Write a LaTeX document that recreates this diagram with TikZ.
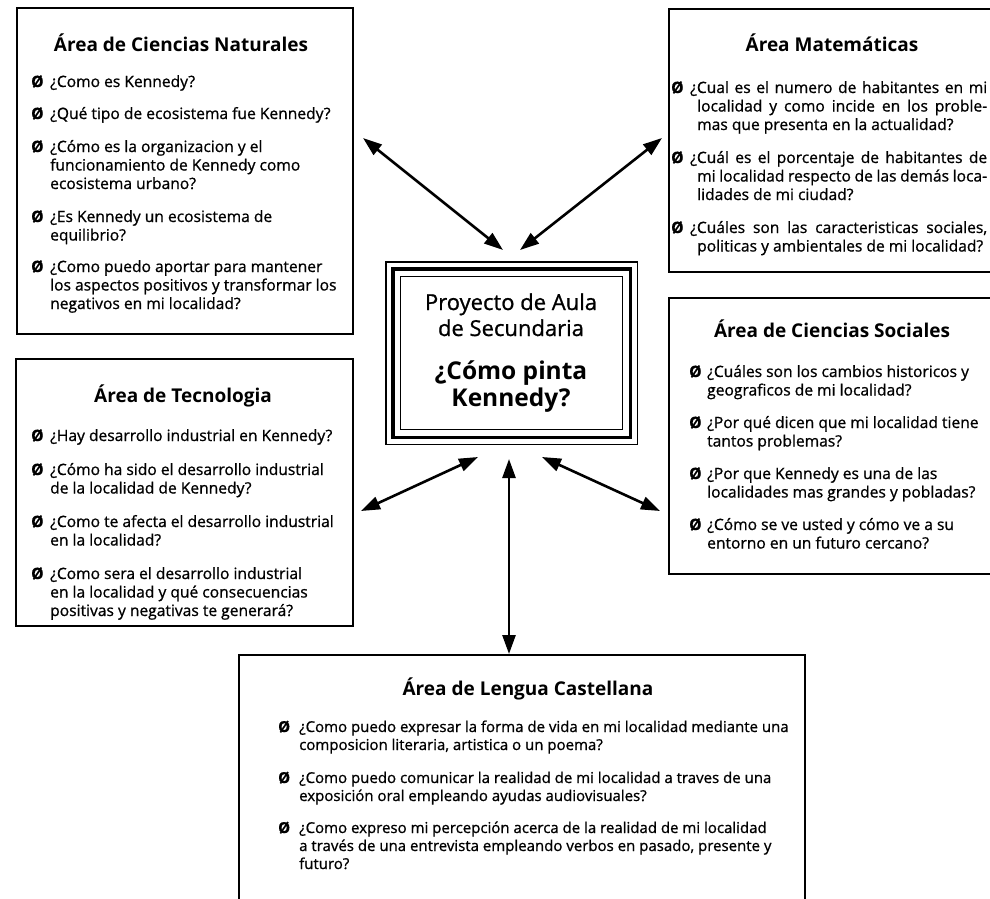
\documentclass[tikz,border=0pt]{standalone}
\usepackage{fontspec}
\setmainfont{Open Sans}
\newfontfamily\qfont{Open Sans}[FakeBold=0.9]
\usetikzlibrary{arrows.meta,calc}

\tikzset{
  panel/.style={draw, line width=2.4pt, inner sep=0pt, anchor=north west},
  ttl/.style={anchor=base, inner sep=0pt, font=\fontsize{19}{22}\selectfont\bfseries},
  qtxt/.style={anchor=base west, inner sep=0pt, font=\qfont\fontsize{15.6}{18.5}\selectfont},
  qwide/.style={qtxt, font=\qfont\fontsize{15}{18}\selectfont},
  ctxt/.style={anchor=base, inner sep=0pt, font=\qfont\fontsize{22}{26}\selectfont},
  cbold/.style={anchor=base, inner sep=0pt, font=\fontsize{24.5}{27.5}\selectfont\bfseries},
  thinframe/.style={draw, line width=1.4pt},
  thickframe/.style={draw, line width=3.4pt},
  link/.style={line width=2.6pt, {Triangle[length=19pt,width=13pt]}-{Triangle[length=19pt,width=13pt]}},
}
\newcommand{\qbul}{\textbf{Ø}}
% question list: bullet column of fixed width, then the lines
\newcommand{\ql}[2][19pt]{\begin{tabular}[t]{@{}l@{}l@{}}\makebox[#1][l]{\qbul} & #2\end{tabular}}

\begin{document}
\begin{tikzpicture}[x=1pt,y=-1pt]
\useasboundingbox (0,0) rectangle (990,899);
\clip (0,0) rectangle (990,899);
\fill[white] (0,0) rectangle (990,899);

% ---- panels ----
\node[panel, minimum width=336pt, minimum height=326pt] (nat) at (16,7) {};
\node[panel, minimum width=340pt, minimum height=263pt] (mat) at (668,8) {};
\node[panel, minimum width=340pt, minimum height=276pt] (soc) at (668,297) {};
\node[panel, minimum width=337pt, minimum height=267pt] (tec) at (15,358) {};
\node[panel, minimum width=566pt, minimum height=280pt] (len) at (238,654) {};

% ---- central project box (three nested frames) ----
\node[thinframe, anchor=north west, inner sep=0pt, minimum width=222pt, minimum height=153pt] (proj) at (400,276) {};
\draw[thickframe] ($(proj.north west)+(-7,-7)$) rectangle ($(proj.south east)+(7,7)$);
\draw[thinframe] ($(proj.north west)+(-14,-14)$) rectangle ($(proj.south east)+(14,14)$);
\node[ctxt] (projA) at (511,310) {\begin{tabular}[t]{@{}c@{}}Proyecto de Aula\\de Secundaria\end{tabular}};
\node[cbold] (projB) at (511,379) {\begin{tabular}[t]{@{}c@{}}¿Cómo pinta\\Kennedy?\end{tabular}};

% ---- Ciencias Naturales ----
\node[ttl] (natT) at (181,52) {Área de Ciencias Naturales};
\node[qtxt] (nat1) at (31,87) {\ql{¿Como es Kennedy?}};
\node[qtxt] (nat2) at (31,119) {\ql{¿Qué tipo de ecosistema fue Kennedy?}};
\node[qtxt] (nat3) at (31,152) {\ql{¿Cómo es la organizacion y el\\ & funcionamiento de Kennedy como\\ & ecosistema urbano?}};
\node[qtxt] (nat4) at (31,222) {\ql{¿Es Kennedy un ecosistema de\\ & equilibrio?}};
\node[qtxt] (nat5) at (31,272) {\ql{¿Como puedo aportar para mantener\\ & los aspectos positivos y transformar los\\ & negativos en mi localidad?}};

% ---- Matemáticas ----
\node[ttl] (matT) at (832,52) {Área Matemáticas};
\node[qtxt] (mat1) at (671,93) {\ql[19pt]{\makebox[297pt][s]{¿Cual es el numero de habitantes en mi}\\ & \hspace{7pt}\makebox[290pt][s]{localidad y como incide en los proble-}\\ & \hspace{7pt}mas que presenta en la actualidad?}};
\node[qtxt] (mat2) at (671,163) {\ql[19pt]{\makebox[297pt][s]{¿Cuál es el porcentaje de habitantes de}\\ & \hspace{7pt}\makebox[290pt][s]{mi localidad respecto de las demás loca-}\\ & \hspace{7pt}lidades de mi ciudad?}};
\node[qtxt] (mat3) at (671,233) {\ql[19pt]{\makebox[297pt][s]{¿Cuáles son las caracteristicas sociales,}\\ & \hspace{7pt}politicas y ambientales de mi localidad?}};

% ---- Ciencias Sociales ----
\node[ttl] (socT) at (832,337) {Área de Ciencias Sociales};
\node[qtxt] (soc1) at (689,377) {\ql[18pt]{¿Cuáles son los cambios historicos y\\ & geograficos de mi localidad?}};
\node[qtxt] (soc2) at (689,428) {\ql[18pt]{¿Por qué dicen que mi localidad tiene\\ & tantos problemas?}};
\node[qtxt] (soc3) at (689,479) {\ql[18pt]{¿Por que Kennedy es una de las\\ & localidades mas grandes y pobladas?}};
\node[qtxt] (soc4) at (689,530) {\ql[18pt]{¿Cómo se ve usted y cómo ve a su\\ & entorno en un futuro cercano?}};

% ---- Tecnologia ----
\node[ttl] (tecT) at (183,402) {Área de Tecnologia};
\node[qtxt] (tec1) at (31,441) {\ql{¿Hay desarrollo industrial en Kennedy?}};
\node[qtxt] (tec2) at (31,475) {\ql{¿Cómo ha sido el desarrollo industrial\\ & de la localidad de Kennedy?}};
\node[qtxt] (tec3) at (31,527) {\ql{¿Como te afecta el desarrollo industrial\\ & en la localidad?}};
\node[qtxt] (tec4) at (31,579) {\ql{¿Como sera el desarrollo industrial\\ & en la localidad y qué consecuencias\\ & positivas y negativas te generará?}};

% ---- Lengua Castellana ----
\node[ttl] (lenT) at (528,695) {Área de Lengua Castellana};
\node[qwide] (len1) at (278,732) {\ql[21pt]{¿Como puedo expresar la forma de vida en mi localidad mediante una\\ & composicion literaria, artistica o un poema?}};
\node[qwide] (len2) at (278,783) {\ql[21pt]{¿Como puedo comunicar la realidad de mi localidad a traves de una\\ & exposición oral empleando ayudas audiovisuales?}};
\node[qwide] (len3) at (278,833) {\ql[21pt]{¿Como expreso mi percepción acerca de la realidad de mi localidad\\ & a través de una entrevista empleando verbos en pasado, presente y\\ & futuro?}};

% ---- two-way links between the project and each area ----
\coordinate (natEnd) at (363,138);
\coordinate (projNW) at (503,250);
\coordinate (projNE) at (520,250);
\coordinate (matEnd) at (662,138);
\coordinate (projSW) at (478,457);
\coordinate (tecEnd) at (361,511);
\coordinate (projSE) at (542,457);
\coordinate (socEnd) at (660,511);
\coordinate (projS) at (509,459);
\coordinate (lenEnd) at (509,654);

\draw[link] (natEnd) -- (projNW);
\draw[link] (projNE) -- (matEnd);
\draw[link] (projSW) -- (tecEnd);
\draw[link] (projSE) -- (socEnd);
\draw[link] (projS) -- (lenEnd);
\end{tikzpicture}
\end{document}
